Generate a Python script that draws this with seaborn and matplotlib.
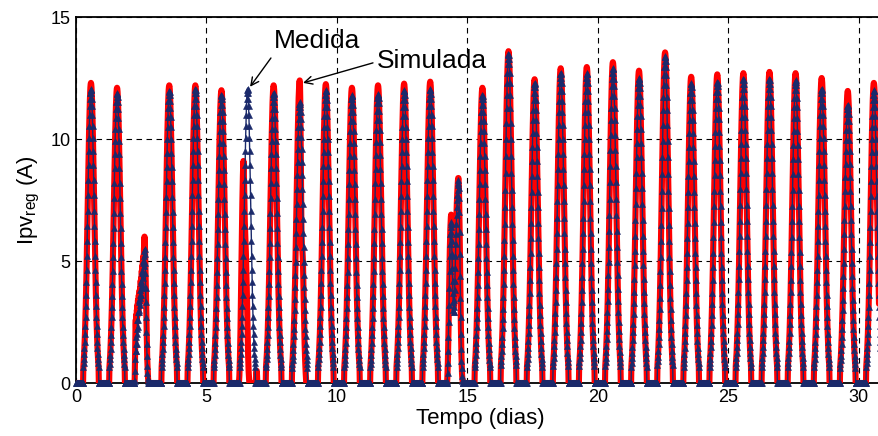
import numpy as np
import pandas as pd
import matplotlib
matplotlib.use("Agg")
import matplotlib.pyplot as plt
import seaborn as sns

# ---------------- data ----------------
n_dias = 31
amostras_por_dia = 96  # 15-min samples

# peak current of each day (A)
pico_medida = [12.05, 11.9, 5.5, 11.97, 12.05, 11.8, 12.05, 11.9, 11.5, 12.0,
               11.8, 11.85, 12.0, 12.04, 8.3, 11.8, 13.5, 12.3, 12.7, 12.7,
               12.9, 12.5, 13.4, 12.3, 12.35, 12.45, 12.45, 12.4, 12.05, 11.4,
               12.0]
pico_simulada = [12.3, 12.1, 6.0, 12.2, 12.2, 12.0, 9.1, 12.2, 12.4, 12.25,
                 12.1, 12.2, 12.27, 12.35, 8.4, 12.1, 13.6, 12.45, 12.9, 12.95,
                 13.15, 12.8, 13.55, 12.55, 12.65, 12.7, 12.75, 12.7, 12.5, 11.97,
                 12.3]

# normalised clear-sky daily shape, one value per 15 min (00:00 .. 23:45)
perfil_diario = ([0.0] * 27 +
                 [0.054, 0.067, 0.081, 0.098, 0.118, 0.140, 0.166, 0.194, 0.226,
                  0.261, 0.300, 0.342, 0.386, 0.433, 0.483, 0.534, 0.586, 0.638,
                  0.690, 0.740, 0.788, 0.834, 0.875, 0.911, 0.942, 0.967, 0.985,
                  0.996, 1.0,
                  0.996, 0.985, 0.967, 0.942, 0.911, 0.875, 0.834, 0.788, 0.740,
                  0.690, 0.638, 0.586, 0.534, 0.483, 0.433, 0.386, 0.342, 0.300,
                  0.261, 0.226, 0.194, 0.166, 0.140, 0.118, 0.098, 0.081, 0.067,
                  0.054] +
                 [0.0] * 12)

# irregular (cloudy) days: (first sample index, values)
especial_medida = {
    2: (24, [0.1, 0.5, 1.0, 1.3, 1.6, 1.3, 1.9, 1.6, 2.2, 2.0, 2.6, 2.3, 2.9, 2.6,
             3.0, 3.3, 2.9, 3.4, 3.6, 3.2, 3.8, 3.5, 4.1, 3.6, 4.2, 3.9, 4.5, 4.0,
             4.6, 4.3, 4.9, 4.5, 5.0, 4.8, 5.2, 5.4, 5.5, 5.3, 4.9, 4.5, 3.9, 3.3,
             2.7, 2.1, 1.6, 1.1, 0.7, 0.4, 0.2, 0.1, 0.0, 0.0]),
    14: (22, [0.1, 0.4, 0.8, 1.3, 1.9, 2.5, 3.2, 3.9, 4.6, 5.2, 5.7, 6.1, 6.4, 6.6,
              6.5, 6.2, 5.8, 5.3, 4.7, 4.2, 3.7, 3.3, 3.0, 2.9, 2.9, 3.1, 3.4, 3.8,
              4.2, 4.7, 5.2, 5.7, 6.1, 6.5, 6.9, 7.2, 7.5, 7.7, 7.9, 8.1, 8.3, 8.2,
              8.0, 7.6, 7.0, 6.2, 5.3, 4.4, 3.5, 2.7, 2.0, 1.4, 0.9, 0.6, 0.3, 0.1,
              0.0, 0.0]),
}
especial_simulada = {
    2: (24, [0.2, 0.9, 1.8, 2.4, 2.6, 2.2, 2.8, 2.5, 3.0, 2.7, 3.2, 3.0, 3.4, 2.9,
             3.3, 3.6, 3.1, 3.5, 3.8, 3.3, 3.9, 3.6, 4.2, 3.7, 4.3, 4.0, 4.6, 4.1,
             4.8, 4.4, 5.0, 4.7, 5.2, 4.9, 5.5, 5.7, 6.0, 5.8, 5.4, 5.0, 4.4, 3.8,
             3.1, 2.5, 1.9, 1.4, 1.0, 0.7, 0.4, 0.2, 0.1, 0.0]),
    6: (24, [0.1, 0.3, 0.6, 1.0, 1.5, 2.1, 2.8, 3.6, 4.4, 5.2, 6.0, 6.7, 7.4, 8.0,
             8.5, 8.9, 9.1, 8.9, 8.3, 7.6, 7.0, 6.6, 6.3, 6.0, 5.7, 5.3, 4.9, 4.5,
             4.0, 3.5, 2.9, 2.3, 1.7, 1.2, 0.8, 0.5, 0.3, 0.1, 0.0, 0.0, 0.0, 0.0,
             0.0, 0.0, 0.0, 0.0, 0.0, 0.0, 0.0, 0.0, 0.0, 0.0, 0.0, 0.0, 0.0, 0.0,
             0.0, 0.0, 0.0, 0.0, 0.0, 0.0, 0.2, 0.4, 0.5, 0.5, 0.3, 0.0]),
    8: (27, [0.67, 0.83, 1.0, 1.22, 1.46, 1.74, 2.06, 2.41, 2.8, 3.24, 3.72, 4.24,
             4.79, 5.37, 5.99, 6.62, 7.27, 7.91, 8.56, 9.18, 9.77, 10.34, 10.85,
             11.3, 11.68, 11.99, 12.21, 12.35, 12.4, 12.2, 11.6, 10.6, 9.3, 7.9,
             6.6, 5.9, 5.6, 5.5, 5.4, 5.2, 4.9, 4.4, 3.8, 3.2, 2.6, 2.1, 1.6, 1.2,
             0.9, 0.6, 0.4, 0.2, 0.0]),
    14: (22, [0.2, 0.5, 0.9, 1.4, 2.0, 2.7, 3.4, 4.1, 4.8, 5.4, 5.9, 6.3, 6.6, 6.8,
              6.9, 6.7, 6.3, 5.7, 5.1, 4.5, 4.0, 3.6, 3.3, 3.1, 3.1, 3.3, 3.6, 4.0,
              4.4, 4.9, 5.4, 5.9, 6.3, 6.7, 7.1, 7.4, 7.7, 7.9, 8.1, 8.3, 8.4, 8.4,
              8.2, 7.8, 7.2, 6.4, 5.5, 4.6, 3.7, 2.9, 2.2, 1.6, 1.1, 0.7, 0.4, 0.2,
              0.1, 0.0]),
}

x_ticks = [0, 5, 10, 15, 20, 25, 30]
y_ticks = [0, 5, 10, 15]


def montar_serie(picos, especiais):
    dias = []
    for d in range(n_dias):
        if d in especiais:
            ini, vals = especiais[d]
            dia = [0.0] * amostras_por_dia
            dia[ini:ini + len(vals)] = vals
        else:
            dia = [picos[d] * p for p in perfil_diario]
        dias.extend(dia)
    return dias


tempo = [d + i / amostras_por_dia for d in range(n_dias) for i in range(amostras_por_dia)]
df = pd.DataFrame({
    "tempo": tempo,
    "Medida": montar_serie(pico_medida, especial_medida),
    "Simulada": montar_serie(pico_simulada, especial_simulada),
})

# ---------------- style ----------------
sns.set_theme(style="white")
plt.rcParams["font.family"] = ["Liberation Sans", "DejaVu Sans"]
plt.rcParams["mathtext.fontset"] = "custom"
plt.rcParams["mathtext.rm"] = "Liberation Sans"
plt.rcParams["mathtext.it"] = "Liberation Sans:italic"

fig = plt.figure(figsize=(8.79, 4.36), dpi=100)
W, H = 879, 436
ax = fig.add_axes([76 / W, 1 - 383 / H, 809 / W, 366 / H])

navy = "#1b2a6b"
sns.lineplot(data=df, x="tempo", y="Simulada", color="#ff0000", lw=4.4,
             estimator=None, sort=False, ax=ax, zorder=2)
sns.lineplot(data=df, x="tempo", y="Medida", color=navy, lw=1.0, marker="^",
             markersize=3.8, markeredgecolor=navy, markeredgewidth=0.4,
             estimator=None, sort=False, ax=ax, zorder=3, clip_on=False)

ax.set_xlim(0, 31)
ax.set_ylim(0, 15)
ax.set_xticks(x_ticks)
ax.set_yticks(y_ticks)
ax.set_axisbelow(True)
ax.grid(True, color="black", linestyle=(0, (5, 4)), linewidth=0.8)

for s in ["top", "left", "bottom"]:
    ax.spines[s].set_color("black")
    ax.spines[s].set_linewidth(1.3)
    ax.spines[s].set_zorder(1)
ax.spines["right"].set_visible(False)

ax.tick_params(axis="both", labelsize=13, colors="black", direction="in",
               length=4, width=1, pad=4)
ax.set_xlabel("Tempo (dias)", fontsize=16, color="black", labelpad=2)
ax.set_ylabel(r"Ipv$_{\rm reg}$ (A)", fontsize=16, color="black", labelpad=6)

ax.text(9.23, 14.0, "Medida", fontsize=19, ha="center", va="center", color="black")
ax.text(13.64, 13.2, "Simulada", fontsize=19, ha="center", va="center", color="black")
arrow = dict(arrowstyle="->", color="black", lw=1.0, shrinkA=0, shrinkB=0,
             mutation_scale=14)
ax.annotate("", xy=(6.67, 12.14), xytext=(7.47, 13.32), arrowprops=arrow)
ax.annotate("", xy=(8.7, 12.3), xytext=(11.38, 13.12), arrowprops=arrow)

fig.savefig("out.png", dpi=100)
